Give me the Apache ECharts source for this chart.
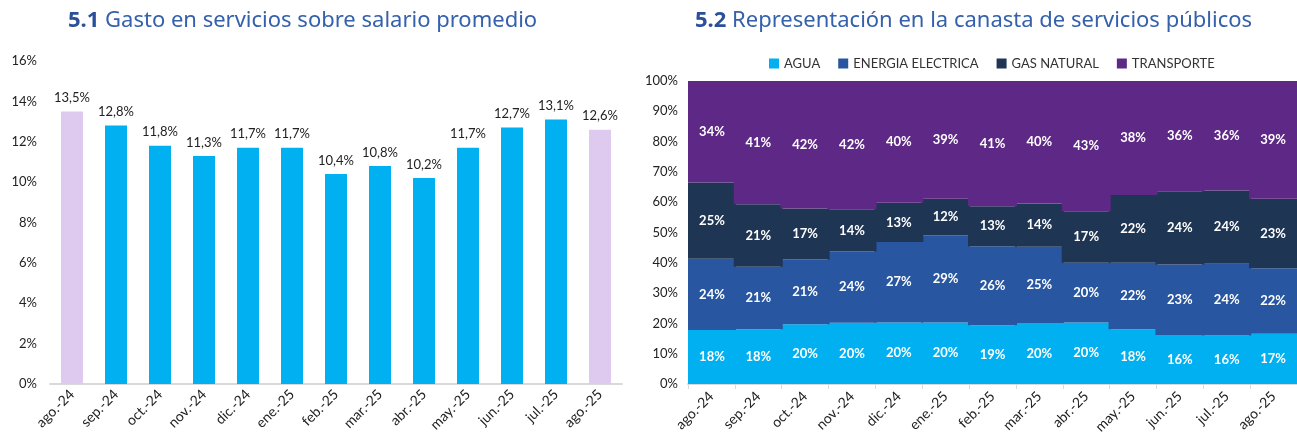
<!DOCTYPE html>
<html>
<head>
<meta charset="utf-8">
<script src="https://cdn.jsdelivr.net/npm/echarts@6/dist/echarts.min.js"></script>
<style>
html,body{margin:0;padding:0;background:#fff;}
#c{width:1297px;height:437px;}
</style>
</head>
<body>
<div id="c"></div>
<script>
const months = ['ago.-24','sep.-24','oct.-24','nov.-24','dic.-24','ene.-25','feb.-25','mar.-25','abr.-25','may.-25','jun.-25','jul.-25','ago.-25'];
const gastoSalario = [13.5,12.8,11.8,11.3,11.7,11.7,10.4,10.8,10.2,11.7,12.7,13.1,12.6];
const leftTicks = [0,2,4,6,8,10,12,14,16];

const agua       = [17.8,18.1,19.7,20.2,20.3,20.3,19.4,20.1,20.3,18.1,16.2,16.0,16.6];
const energia    = [23.5,20.6,21.4,23.5,26.6,28.7,26.1,25.2,19.7,21.9,23.2,23.7,21.6];
const gasNatural = [25.2,20.6,16.8,14.0,12.9,12.1,13.2,14.3,17.0,22.4,24.2,24.2,22.9];
const transporte = [33.5,40.7,42.1,42.3,40.2,38.9,41.3,40.4,43.0,37.6,36.4,36.1,38.9];
const seriesNames = ['AGUA','ENERGIA ELECTRICA','GAS NATURAL','TRANSPORTE'];

const FONT = 'Lato';
const chart = echarts.init(document.getElementById('c'), null, {renderer:'canvas'});

const colorsR = ['#00B0F0','#2856A0','#1F3554','#5E2886'];
const seriesData = [agua, energia, gasNatural, transporte];
const titleRich = {
  b:{fontFamily:'Noto Sans',fontWeight:'bold',fontSize:22,color:'#2B4F98'},
  r:{fontFamily:'Noto Sans',fontWeight:'normal',fontSize:22,color:'#3460AC'}
};

const option = {
  animation:false,
  textStyle:{fontFamily:FONT},
  title:[
    {text:'{b|5.1}{r| Gasto en servicios sobre salario promedio}', left:63, top:5,
     textStyle:{fontWeight:'normal', rich:titleRich}},
    {text:'{b|5.2}{r| Representación en la canasta de servicios públicos}', left:690, top:5,
     textStyle:{fontWeight:'normal', rich:titleRich}}
  ],
  legend:{
    data:seriesNames, top:52, left:764, itemWidth:10, itemHeight:10, itemGap:18,
    icon:'rect', textStyle:{fontFamily:FONT,fontSize:13,color:'#333'}
  },
  grid:[
    {left:50, top:61, width:572, height:323},
    {left:688, top:81, width:611, height:303}
  ],
  xAxis:[
    {type:'category', gridIndex:0, data:months,
     axisLine:{lineStyle:{color:'#D9D9D9',width:2}}, axisTick:{show:false}, splitLine:{show:false},
     axisLabel:{rotate:45, fontSize:14, color:'#222', fontFamily:FONT, margin:8, interval:0}},
    {type:'category', gridIndex:1, data:months, splitLine:{show:false}, splitArea:{show:false},
     axisLine:{lineStyle:{color:'#D9D9D9',width:2}}, axisTick:{show:true, length:5, lineStyle:{color:'#D9D9D9'}},
     axisLabel:{rotate:45, fontSize:14, color:'#222', fontFamily:FONT, margin:10, interval:0}}
  ],
  yAxis:[
    {type:'value', gridIndex:0, min:leftTicks[0], max:leftTicks[leftTicks.length-1], interval:2,
     splitLine:{show:false}, axisLine:{show:false}, axisTick:{show:false},
     axisLabel:{formatter:'{value}%', fontSize:13, color:'#222', fontFamily:FONT, margin:13}},
    {type:'value', gridIndex:1, min:0, max:100, interval:10,
     splitLine:{show:false}, axisLine:{show:false}, axisTick:{show:false},
     axisLabel:{formatter:'{value}%', fontSize:13, color:'#222', fontFamily:FONT, margin:10}}
  ],
  series:[
    {type:'bar', xAxisIndex:0, yAxisIndex:0, barCategoryGap:'50%',
     data:gastoSalario.map((v,i)=>({value:v, itemStyle:{color:(i===0||i===months.length-1)?'#DFCAEF':'#00B0F0'}})),
     label:{show:true, position:'top', distance:7, fontSize:13, color:'#222', fontFamily:FONT,
            formatter:p=>p.value.toFixed(1).replace('.',',')+'%'}}
  ].concat(seriesData.map((d,k)=>({
     type:'bar', name:seriesNames[k], xAxisIndex:1, yAxisIndex:1, stack:'canasta',
     barWidth:49, data:d,
     itemStyle:{color:colorsR[k]},
     label:{show:true, position:'inside', fontSize:13, fontWeight:'bold', color:'#fff', fontFamily:FONT,
            formatter:p=>Math.round(p.value)+'%'}
  })))
};
chart.setOption(option);
</script>
</body>
</html>
